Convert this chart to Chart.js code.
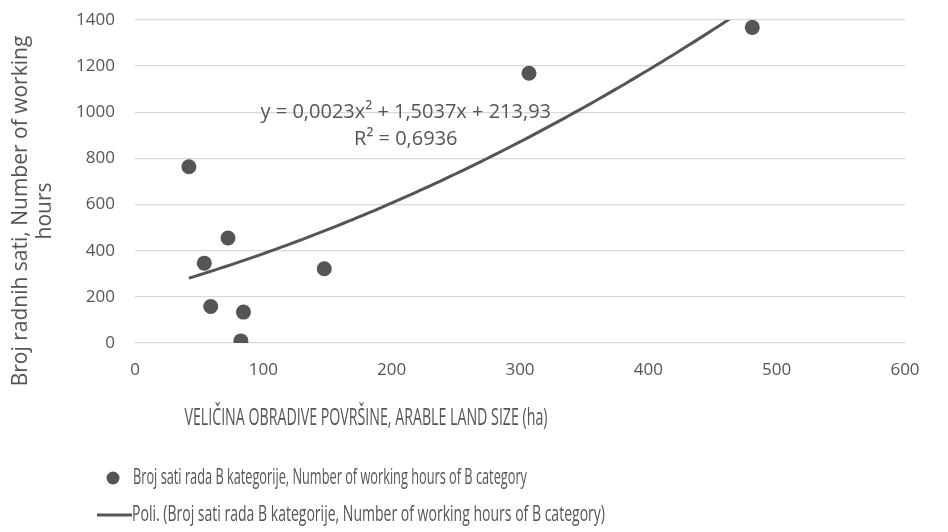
<!DOCTYPE html>
<html>
<head>
<meta charset="utf-8">
<script src="https://cdn.jsdelivr.net/npm/chart.js@4.4.1/dist/chart.umd.min.js"></script>
<style>
    html, body { margin: 0; padding: 0; background: #fff; }
    #wrap { width: 948px; height: 532px; }
</style>
</head>
<body>
<div id="wrap"><canvas id="hoursChart"></canvas></div>
<script>
// arable land size (ha) and working hours of B category
const landSize = [42, 54, 59, 72.5, 82.5, 84.5, 147.5, 307, 481];
const workHours = [764, 346, 158, 455, 9, 134, 322, 1169, 1368];

// polynomial trendline as printed on the chart: y = a*x^2 + b*x + c
const trendCoef = [0.0023, 1.5037, 213.93];
const trendText = ['y = 0,0023x² + 1,5037x + 213,93', 'R² = 0,6936'];

const xTicks = [0, 100, 200, 300, 400, 500, 600];
const yTicks = [0, 200, 400, 600, 800, 1000, 1200, 1400];

const xTitle = 'VELIČINA OBRADIVE POVRŠINE, ARABLE LAND SIZE (ha)';
const yTitle = ['Broj radnih sati, Number of working', 'hours'];
const seriesName = 'Broj sati rada B kategorije, Number of working hours of B category';
const trendName = 'Poli. (Broj sati rada B kategorije, Number of working hours of B category)';

const GREY = '#555555';

document.addEventListener("DOMContentLoaded", function () {
    genHoursChart();
});

function trendPoints() {
    const pts = [];
    const x0 = Math.min(...landSize);
    const x1 = Math.max(...landSize);
    for (let x = x0; x <= x1; x += 4) {
        pts.push({ x: x, y: trendCoef[0] * x * x + trendCoef[1] * x + trendCoef[2] });
    }
    return pts;
}

// draws axis titles, trendline label and the legend
const excelText = {
    id: 'excelText',
    afterDraw(chart) {
        const ctx = chart.ctx;
        const xs = chart.scales.x;
        const ys = chart.scales.y;
        ctx.save();
        ctx.fillStyle = GREY;

        // trendline equation
        ctx.font = '20px "Open Sans"';
        ctx.textAlign = 'center';
        ctx.textBaseline = 'alphabetic';
        ctx.fillText(trendText[0], xs.getPixelForValue(211), ys.getPixelForValue(975), 298);
        ctx.fillText(trendText[1], xs.getPixelForValue(211), ys.getPixelForValue(860), 112);

        // y axis title
        ctx.save();
        ctx.translate(0, 211);
        ctx.rotate(-Math.PI / 2);
        ctx.font = '21px "Open Sans"';
        ctx.textBaseline = 'middle';
        ctx.fillText(yTitle[0], 0, 21);
        ctx.fillText(yTitle[1], 0, 45);
        ctx.restore();

        // x axis title
        ctx.font = '23px "Open Sans"';
        ctx.textBaseline = 'middle';
        ctx.fillText(xTitle, 366, 418, 363);

        // legend
        const ds = chart.data.datasets;
        ctx.textAlign = 'left';
        ctx.font = '22px "Open Sans"';
        ctx.beginPath();
        ctx.arc(113, 478, 6.5, 0, Math.PI * 2);
        ctx.fillStyle = ds[0].backgroundColor;
        ctx.fill();
        ctx.fillStyle = GREY;
        ctx.fillText(ds[0].label, 133, 478, 394);

        ctx.beginPath();
        ctx.moveTo(97, 515);
        ctx.lineTo(132, 515);
        ctx.lineWidth = 3;
        ctx.strokeStyle = ds[1].borderColor;
        ctx.stroke();
        ctx.fillText(ds[1].label, 132, 515, 473);

        ctx.restore();
    }
};

function genHoursChart() {
    const hoursCtx = document.getElementById('hoursChart').getContext('2d');

    window.hoursChart = new Chart(hoursCtx, {
        type: 'scatter',
        data: {
            datasets: [{
                label: seriesName,
                data: landSize.map((x, i) => ({ x: x, y: workHours[i] })),
                backgroundColor: GREY,
                borderColor: GREY,
                pointRadius: 7.5,
                pointHoverRadius: 7.5,
                borderWidth: 0
            }, {
                label: trendName,
                data: trendPoints(),
                showLine: true,
                borderColor: GREY,
                borderWidth: 3,
                pointRadius: 0,
                fill: false
            }]
        },
        options: {
            responsive: true,
            maintainAspectRatio: false,
            animation: false,
            layout: {
                padding: { left: 0, right: 43, top: 20, bottom: 0 }
            },
            plugins: {
                legend: { display: false },
                tooltip: { enabled: false }
            },
            scales: {
                x: {
                    type: 'linear',
                    min: 0,
                    max: 600,
                    afterBuildTicks: scale => {
                        scale.ticks = xTicks.map(v => ({ value: v }));
                    },
                    afterFit: scale => {
                        scale.height = 189;
                    },
                    grid: { display: false, drawTicks: false },
                    border: { display: false },
                    ticks: {
                        color: GREY,
                        font: { family: 'Open Sans', size: 17 },
                        padding: 17,
                        callback: value => String(value)
                    }
                },
                y: {
                    min: 0,
                    max: 1400,
                    afterBuildTicks: scale => {
                        scale.ticks = yTicks.map(v => ({ value: v }));
                    },
                    afterFit: scale => {
                        scale.width = 135;
                        scale.paddingTop = 0;
                        scale.paddingBottom = 0;
                    },
                    grid: {
                        color: '#d9d9d9',
                        lineWidth: 1.3,
                        drawTicks: false
                    },
                    border: { display: false },
                    ticks: {
                        color: GREY,
                        font: { family: 'Open Sans', size: 17 },
                        padding: 20,
                        callback: value => String(value)
                    }
                }
            }
        },
        plugins: [excelText]
    });
}
</script>
</body>
</html>
